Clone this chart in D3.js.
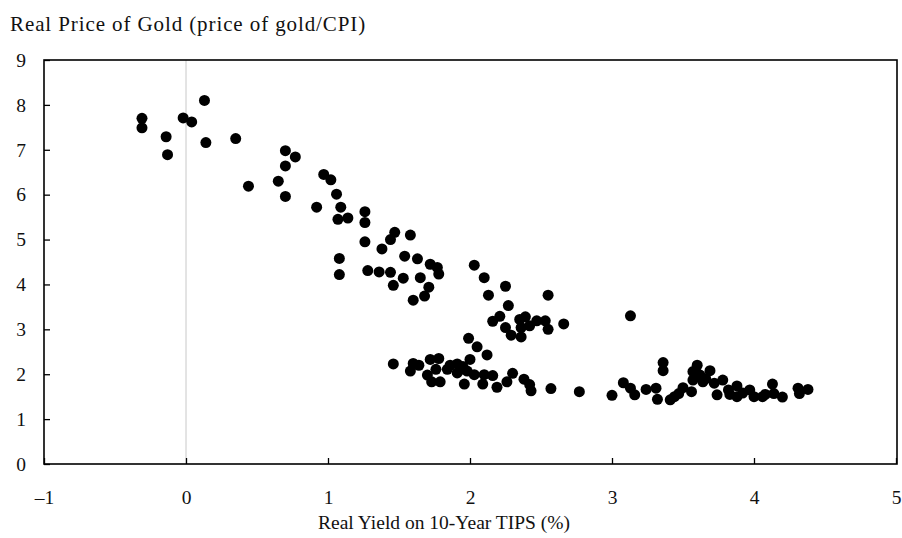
<!DOCTYPE html>
<html><head><meta charset="utf-8">
<script src="https://cdn.jsdelivr.net/npm/d3@7"></script>
<style>body{margin:0;background:#fff}svg{display:block}</style>
</head><body>
<svg id="c" width="902" height="538"></svg>
<script>
const xTicks = [-1, 0, 1, 2, 3, 4, 5];
const yTicks = [0, 1, 2, 3, 4, 5, 6, 7, 8, 9];
const yieldVals = [
-0.31,-0.31,-0.14,-0.13,-0.02,0.04,0.13,0.14,0.35,0.44,0.70,0.77,0.70,0.65,0.70,
0.97,1.02,1.06,0.92,1.09,1.07,1.14,1.26,1.26,1.47,1.44,1.58,1.26,1.38,1.54,1.63,1.72,1.77,1.78,
1.08,1.08,1.28,1.36,1.44,1.53,1.65,1.46,1.71,1.68,1.60,
2.03,2.10,2.13,2.25,2.27,2.55,2.16,2.21,2.25,2.29,2.35,2.39,2.36,2.36,2.42,2.47,2.53,2.55,2.66,3.13,
1.99,2.05,2.12,
1.46,1.60,1.58,1.64,1.72,1.78,1.70,1.73,1.79,1.76,1.84,1.91,1.91,1.95,2.00,1.98,2.03,1.96,2.10,2.16,2.09,2.19,2.26,2.30,2.38,2.42,2.43,2.57,2.77,3.00,1.86,1.93,
3.08,3.13,3.16,3.24,3.31,3.32,3.36,3.36,3.41,3.47,3.56,3.57,3.60,3.57,3.69,3.64,3.74,3.78,3.82,3.88,3.88,3.97,4.00,4.06,4.13,4.14,4.20,4.31,4.32,4.38,
3.62,3.66,3.72,3.50,3.44,3.92,4.08,3.83
];
const goldVals = [
7.70,7.49,7.29,6.89,7.71,7.62,8.10,7.16,7.25,6.19,6.98,6.84,6.64,6.30,5.96,
6.45,6.33,6.01,5.72,5.72,5.45,5.48,5.62,5.38,5.16,5.00,5.10,4.95,4.79,4.63,4.57,4.45,4.38,4.23,
4.58,4.22,4.31,4.28,4.27,4.14,4.15,3.98,3.94,3.74,3.65,
4.43,4.15,3.76,3.96,3.53,3.76,3.18,3.29,3.04,2.87,3.22,3.28,3.04,2.83,3.08,3.19,3.19,3.00,3.12,3.30,
2.80,2.61,2.43,
2.23,2.24,2.07,2.20,2.33,2.35,1.98,1.83,1.83,2.11,2.11,2.23,2.03,2.17,2.33,2.07,1.99,1.78,1.99,1.97,1.78,1.71,1.83,2.02,1.89,1.77,1.63,1.68,1.61,1.53,2.20,2.10,
1.81,1.69,1.54,1.66,1.69,1.44,2.26,2.08,1.43,1.57,1.61,1.87,2.20,2.06,2.08,1.83,1.54,1.87,1.65,1.74,1.50,1.65,1.50,1.50,1.78,1.57,1.49,1.69,1.57,1.66,
1.98,1.90,1.80,1.70,1.50,1.58,1.55,1.55
];
const points = yieldVals.map((v, i) => ({x: v, y: goldVals[i]}));

const svg = d3.select("#c");
const L = 44, R = 896, T = 60, B = 464;
const x = d3.scaleLinear().domain([-1, 5]).range([L, R]);
const y = d3.scaleLinear().domain([0, 9]).range([B, T]);
const font = "'Liberation Serif', serif";

// zero line
svg.append("line").attr("x1", x(0)).attr("x2", x(0)).attr("y1", T).attr("y2", B)
  .attr("stroke", "#c8c8c8").attr("stroke-width", 1);

// points
svg.append("g").selectAll("circle").data(points).join("circle")
  .attr("cx", d => x(d.x)).attr("cy", d => y(d.y)).attr("r", 5.5).attr("fill", "#000");

// axes
const xAxis = d3.axisBottom(x).tickValues(xTicks).tickSizeInner(-6).tickSizeOuter(0).tickPadding(26)
  .tickFormat(d => d < 0 ? "\u2013" + Math.abs(d) : String(d));
const gx = svg.append("g").attr("transform", `translate(0,${B})`).call(xAxis);
const yAxis = d3.axisLeft(y).tickValues(yTicks).tickSizeInner(-6).tickSizeOuter(0).tickPadding(18);
const gy = svg.append("g").attr("transform", `translate(${L},0)`).call(yAxis);
[gx, gy].forEach(g => {
  g.select(".domain").remove();
  g.selectAll("line").attr("stroke", "#000").attr("stroke-width", 1.3);
  g.selectAll("text").attr("font-family", font).attr("font-size", 19.5).attr("fill", "#111");
});

// frame
svg.append("rect").attr("x", L).attr("y", T).attr("width", R - L + 1).attr("height", B - T)
  .attr("fill", "none").attr("stroke", "#000").attr("stroke-width", 1.6);

// titles
svg.append("text").attr("x", 10).attr("y", 31).attr("font-family", font).attr("font-size", 21)
  .attr("letter-spacing", 0.9).attr("fill", "#111").text("Real Price of Gold (price of gold/CPI)");
svg.append("text").attr("x", 444).attr("y", 529).attr("text-anchor", "middle")
  .attr("font-family", font).attr("font-size", 19.5).attr("fill", "#111").text("Real Yield on 10-Year TIPS (%)");
</script>
</body></html>
